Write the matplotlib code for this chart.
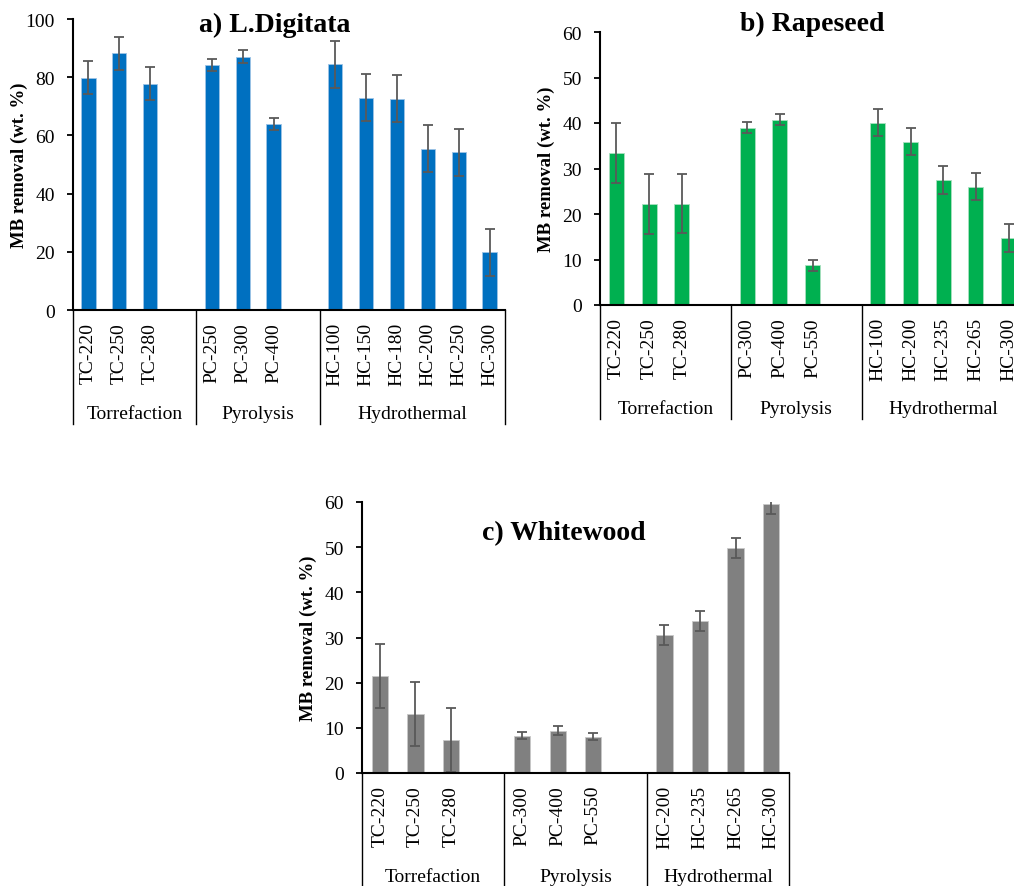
import matplotlib.pyplot as plt

plt.rcParams['font.family'] = ['Liberation Serif', 'DejaVu Serif']

# 공통 그룹 이름
groups = ['Torrefaction', 'Pyrolysis', 'Hydrothermal']

# a) L.Digitata
a_labels = [['TC-220', 'TC-250', 'TC-280'],
            ['PC-250', 'PC-300', 'PC-400'],
            ['HC-100', 'HC-150', 'HC-180', 'HC-200', 'HC-250', 'HC-300']]
a_values = [79.8, 88.2, 77.8, 84.2, 87.1, 63.9, 84.4, 73.0, 72.6, 55.4, 54.2, 19.9]
a_errors = [5.6, 5.6, 5.6, 2.2, 2.2, 2.2, 8.1, 8.1, 8.1, 8.1, 8.1, 8.1]

# b) Rapeseed
b_labels = [['TC-220', 'TC-250', 'TC-280'],
            ['PC-300', 'PC-400', 'PC-550'],
            ['HC-100', 'HC-200', 'HC-235', 'HC-265', 'HC-300']]
b_values = [33.4, 22.2, 22.3, 39.0, 40.7, 8.7, 40.1, 35.9, 27.5, 26.0, 14.7]
b_errors = [6.5, 6.5, 6.5, 1.2, 1.2, 1.2, 3.0, 3.0, 3.0, 3.0, 3.0]

# c) Whitewood
c_labels = [['TC-220', 'TC-250', 'TC-280'],
            ['PC-300', 'PC-400', 'PC-550'],
            ['HC-200', 'HC-235', 'HC-265', 'HC-300']]
c_values = [21.4, 13.0, 7.4, 8.3, 9.4, 8.0, 30.6, 33.7, 49.8, 59.5]
c_errors = [7.1, 7.1, 7.1, 0.8, 0.9, 0.8, 2.2, 2.2, 2.2, 2.1]

W, H = 1014, 887
fig = plt.figure(figsize=(W / 100, H / 100), dpi=100)


def px(v):  # 픽셀 -> 포인트
    return v * 72 / 100


def panel(box, labels, values, errors, color, edge, ymax, ystep,
          title, title_xy):
    left, top, right, bottom = box
    ax = fig.add_axes([left / W, 1 - bottom / H, (right - left) / W, (bottom - top) / H])

    # 그룹 사이에 빈 칸 하나
    xs, names, bounds = [], [], [-0.5]
    pos = 0
    for gi, g in enumerate(labels):
        for name in g:
            xs.append(pos)
            names.append(name)
            pos += 1
        if gi < len(labels) - 1:
            pos += 1
        bounds.append(pos - 0.5)

    ax.bar(xs, values, width=0.46, color=color, edgecolor=edge, linewidth=0.6,
           yerr=errors, error_kw=dict(ecolor='#595959', elinewidth=1.3,
                                      capsize=3.3, capthick=1.3))
    ax.set_xlim(-0.5, pos - 0.5)
    ax.set_ylim(0, ymax)
    ax.set_yticks(range(0, ymax + 1, ystep))
    ax.set_xticks([])
    ax.tick_params(axis='y', labelsize=14, length=4, width=1.3, pad=9)
    for s in ['top', 'right']:
        ax.spines[s].set_visible(False)
    for s in ['left', 'bottom']:
        ax.spines[s].set_linewidth(1.5)

    # 막대 이름 (세로)
    for x, name in zip(xs, names):
        ax.annotate(name, xy=(x, 0), xycoords=('data', 'axes fraction'),
                    xytext=(0, -px(12)), textcoords='offset points',
                    rotation=90, ha='center', va='top', fontsize=14)

    # 그룹 구분선과 그룹 이름
    hpx = bottom - top
    for b in bounds:
        ax.plot([b, b], [0, -114 / hpx], color='black', lw=1.0,
                transform=ax.get_xaxis_transform(), clip_on=False)
    for gi, g in enumerate(groups):
        cx = (bounds[gi] + bounds[gi + 1]) / 2
        ax.annotate(g, xy=(cx, 0), xycoords=('data', 'axes fraction'),
                    xytext=(0, -px(108)), textcoords='offset points',
                    ha='center', va='baseline', fontsize=14)

    fig.text((left - 54) / W, 1 - (top + bottom) / 2 / H, 'MB removal (wt. %)',
             rotation=90, ha='center', va='center', fontsize=13.5, fontweight='bold')
    fig.text(title_xy[0] / W, 1 - title_xy[1] / H, title, ha='center',
             va='baseline', fontsize=20, fontweight='bold')
    return ax


panel((73, 20, 505, 311), a_labels, a_values, a_errors, '#0070C0', '#9DC3E6',
      100, 20, 'a) L.Digitata', (275, 32))
panel((600, 33, 1025, 306), b_labels, b_values, b_errors, '#00B050', '#A9E0C0',
      60, 10, 'b) Rapeseed', (812, 31))
panel((362, 503, 789, 774), c_labels, c_values, c_errors, '#808080', '#C8C8C8',
      60, 10, 'c) Whitewood', (564, 540))

plt.savefig('out.png', dpi=100)
